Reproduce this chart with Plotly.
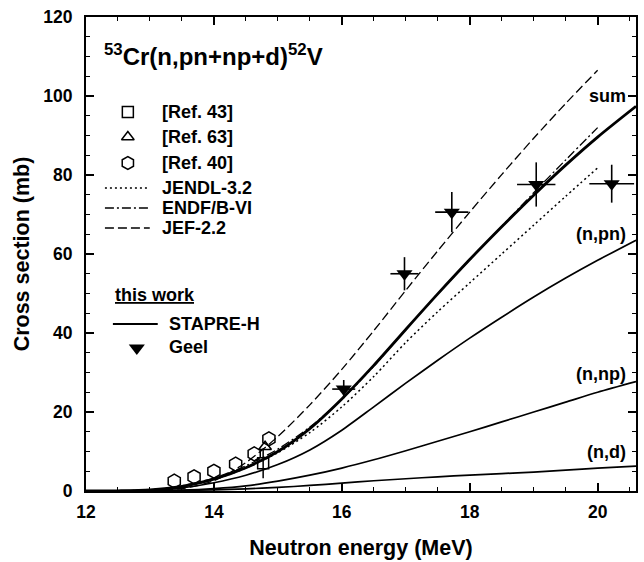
import plotly.graph_objects as go

# ---------------- data ----------------
energy_calc = [12.0, 12.5, 13.0, 13.5, 14.0, 14.5, 15.0, 15.5, 16.0, 16.5, 17.0,
               17.5, 18.0, 18.5, 19.0, 19.5, 20.0, 20.6]
sum_xs = [0.0, 0.05, 0.3, 1.2, 3.0, 5.9, 10.0, 15.8, 23.3, 31.8, 40.9,
          49.9, 58.6, 66.9, 74.9, 82.5, 89.6, 97.4]
npn_xs = [0.0, 0.03, 0.2, 0.8, 2.1, 4.0, 6.7, 10.4, 15.4, 21.3, 27.3,
          33.1, 38.7, 44.0, 49.1, 53.9, 58.4, 63.5]
nnp_xs = [0.0, 0.01, 0.05, 0.2, 0.6, 1.3, 2.5, 4.0, 5.8, 7.9, 10.2,
          12.6, 15.0, 17.5, 20.0, 22.5, 25.0, 27.7]
nd_xs = [0.0, 0.01, 0.05, 0.15, 0.3, 0.55, 0.9, 1.4, 2.0, 2.6, 3.1,
         3.6, 4.0, 4.4, 4.8, 5.3, 5.8, 6.3]

energy_eval = [12.0, 12.5, 13.0, 13.5, 14.0, 14.5, 15.0, 15.5, 16.0, 16.5,
               17.0, 17.5, 18.0, 18.5, 19.0, 19.5, 20.0]
jendl_xs = [0.0, 0.05, 0.2, 1.0, 2.9, 5.8, 9.7, 14.8, 21.3, 29.0,
            37.6, 45.4, 52.7, 60.0, 67.3, 74.6, 81.8]
endf_xs = [0.0, 0.05, 0.3, 1.3, 3.3, 6.4, 10.6, 16.2, 23.2, 31.6,
           40.9, 49.9, 58.5, 67.0, 75.5, 83.8, 92.0]
jef_xs = [0.0, 0.05, 0.1, 0.6, 2.6, 7.2, 13.8, 21.8, 30.8, 40.6,
          50.8, 60.8, 70.6, 80.1, 89.3, 98.1, 106.5]

geel_e = [16.03, 16.98, 17.72, 19.04, 20.22]
geel_xs = [25.8, 55.0, 70.6, 77.6, 77.8]
geel_de = [0.18, 0.22, 0.26, 0.30, 0.35]
geel_dxs = [2.3, 4.2, 5.1, 5.6, 4.8]

ref43_e = [14.77]
ref43_xs = [7.0]
ref43_dxs = [3.8]
ref63_e = [14.80]
ref63_xs = [11.2]
ref40_e = [13.38, 13.69, 14.00, 14.34, 14.63, 14.86]
ref40_xs = [2.5, 3.6, 5.0, 6.8, 9.4, 13.2]

x_ticks = [12, 14, 16, 18, 20]
y_ticks = [0, 20, 40, 60, 80, 100, 120]

curve_labels = ["sum", "(n,pn)", "(n,np)", "(n,d)"]
curve_label_y = [100.0, 65.0, 29.5, 9.9]

legend_items = ["[Ref. 43]", "[Ref. 63]", "[Ref. 40]", "JENDL-3.2", "ENDF/B-VI", "JEF-2.2"]
work_items = ["STAPRE-H", "Geel"]

# ---------------- styles ----------------
FONT = "Liberation Sans, Arial, Helvetica, sans-serif"
BLK = "black"
DOT = "2px,3px"
DASHDOT = "9px,3px,2px,3px"
DASH = "9px,4px"

fig = go.Figure()

def line_trace(x, y, width, dash=None, xa="x", ya="y", smooth=True):
    return go.Scatter(x=x, y=y, mode="lines", xaxis=xa, yaxis=ya,
                      line=dict(color=BLK, width=width, dash=dash,
                                shape="spline" if smooth else "linear",
                                smoothing=0.8),
                      showlegend=False, hoverinfo="skip")

# evaluations
fig.add_trace(line_trace(energy_eval, jef_xs, 1.3, DASH))
fig.add_trace(line_trace(energy_eval, endf_xs, 1.3, DASHDOT))
fig.add_trace(line_trace(energy_eval, jendl_xs, 1.5, DOT))
# calculations
fig.add_trace(line_trace(energy_calc, nd_xs, 1.7))
fig.add_trace(line_trace(energy_calc, nnp_xs, 1.7))
fig.add_trace(line_trace(energy_calc, npn_xs, 1.7))
fig.add_trace(line_trace(energy_calc, sum_xs, 2.8))

# experimental data
fig.add_trace(go.Scatter(x=ref40_e, y=ref40_xs, mode="markers", showlegend=False,
                         marker=dict(symbol="hexagon-open", size=14, color=BLK,
                                     line=dict(width=1.5, color=BLK))))
fig.add_trace(go.Scatter(x=ref43_e, y=ref43_xs, mode="markers", showlegend=False,
                         error_y=dict(type="data", array=ref43_dxs, width=0,
                                      thickness=1.5, color=BLK),
                         marker=dict(symbol="square-open", size=11, color=BLK,
                                     line=dict(width=1.5, color=BLK))))
fig.add_trace(go.Scatter(x=ref63_e, y=ref63_xs, mode="markers", showlegend=False,
                         marker=dict(symbol="triangle-up-open", size=11, color=BLK,
                                     line=dict(width=1.5, color=BLK))))
fig.add_trace(go.Scatter(x=geel_e, y=geel_xs, mode="markers", showlegend=False,
                         error_x=dict(type="data", array=geel_de, width=0,
                                      thickness=1.6, color=BLK),
                         error_y=dict(type="data", array=geel_dxs, width=0,
                                      thickness=1.6, color=BLK),
                         marker=dict(symbol="triangle-down", size=14, color=BLK,
                                     line=dict(width=0))))

# ---------------- hand-drawn legend on a pixel overlay axis ----------------
# overlay axis spans the plot area in page pixels: x 86..638, y 491..17
lx0, lx1 = 105, 150           # line sample extent, first group
lsym = 128                    # symbol centre, first group
ltext = 160                   # text start, first group
ly = [112, 137, 163, 188, 208, 228]
leg_syms = ["square-open", "triangle-up-open", "hexagon-open"]
leg_sizes = [11, 11, 13]
for i in range(3):
    fig.add_trace(go.Scatter(x=[lsym], y=[ly[i]], xaxis="x2", yaxis="y2",
                             mode="markers", showlegend=False, hoverinfo="skip",
                             marker=dict(symbol=leg_syms[i], size=leg_sizes[i], color=BLK,
                                         line=dict(width=1.5, color=BLK))))
for i, d in zip(range(3, 6), [DOT, DASHDOT, DASH]):
    fig.add_trace(line_trace([lx0, lx1], [ly[i], ly[i]], 1.5, d, "x2", "y2", False))

fig.add_trace(line_trace([113, 158], [324, 324], 2.2, None, "x2", "y2", False))
fig.add_trace(go.Scatter(x=[137], y=[348], xaxis="x2", yaxis="y2",
                         mode="markers", showlegend=False, hoverinfo="skip",
                         marker=dict(symbol="triangle-down", size=14, color=BLK,
                                     line=dict(width=0))))

annots = []
for i, t in enumerate(legend_items):
    annots.append(dict(x=ltext, y=ly[i], xref="x2", yref="y2", text=t,
                       xanchor="left", yanchor="middle", showarrow=False,
                       font=dict(family=FONT, size=18, color=BLK, weight="bold")))
annots.append(dict(x=113, y=295, xref="x2", yref="y2", text="this work",
                   xanchor="left", yanchor="middle", showarrow=False,
                   font=dict(family=FONT, size=18, color=BLK, weight="bold",
                             lineposition="under")))
for t, yy in zip(work_items, [324, 347]):
    annots.append(dict(x=167, y=yy, xref="x2", yref="y2", text=t,
                       xanchor="left", yanchor="middle", showarrow=False,
                       font=dict(family=FONT, size=18, color=BLK, weight="bold")))
# reaction title
annots.append(dict(x=102, y=55, xref="x2", yref="y2",
                   text="<sup>53</sup>Cr(n,pn+np+d)<sup>52</sup>V",
                   xanchor="left", yanchor="middle", showarrow=False,
                   font=dict(family=FONT, size=24, color=BLK, weight="bold")))
# curve labels
for t, yy in zip(curve_labels, curve_label_y):
    annots.append(dict(x=20.47, y=yy, xref="x", yref="y", text=t,
                       xanchor="right", yanchor="middle", showarrow=False,
                       font=dict(family=FONT, size=18, color=BLK, weight="bold")))

axis_common = dict(showline=True, linewidth=2, linecolor=BLK, mirror="ticks",
                   ticks="inside", ticklen=8, tickwidth=1.5, tickcolor=BLK,
                   showgrid=False, zeroline=False,
                   tickfont=dict(family=FONT, size=17.5, color=BLK, weight="bold"))

fig.update_layout(
    width=644, height=562,
    margin=dict(l=86, r=6, t=17, b=71),
    paper_bgcolor="white", plot_bgcolor="white",
    showlegend=False,
    annotations=annots,
    xaxis=dict(range=[12, 20.6], tickvals=x_ticks, ticklabelstandoff=4,
               minor=dict(dtick=0.5, tick0=12, ticks="inside", ticklen=4,
                          tickwidth=1.2, tickcolor=BLK),
               title=dict(text="Neutron energy (MeV)", standoff=19,
                          font=dict(family=FONT, size=21.5, color=BLK, weight="bold")),
               **axis_common),
    yaxis=dict(range=[0, 120], tickvals=y_ticks, ticklabelstandoff=8,
               minor=dict(dtick=5, tick0=0, ticks="inside", ticklen=4,
                          tickwidth=1.2, tickcolor=BLK),
               title=dict(text="Cross section (mb)", standoff=8,
                          font=dict(family=FONT, size=21.5, color=BLK, weight="bold")),
               **axis_common),
    xaxis2=dict(overlaying="x", range=[86, 638], visible=False, fixedrange=True),
    yaxis2=dict(overlaying="y", range=[491, 17], visible=False, fixedrange=True),
)

fig.write_html("out.html")
